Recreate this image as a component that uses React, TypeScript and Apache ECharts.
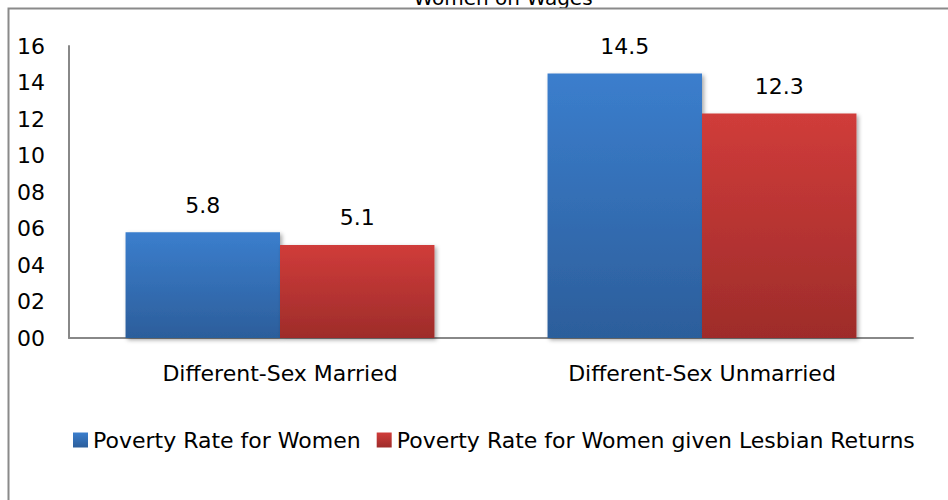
import React, { useEffect, useRef } from "react";
import * as echarts from "echarts";

const categories = ["Different-Sex Married", "Different-Sex Unmarried"];
const seriesNames = ["Poverty Rate for Women", "Poverty Rate for Women given Lesbian Returns"];
const womenValues = [5.8, 14.5];
const lesbianValues = [5.1, 12.3];
const titleText = "Women on Wages";

const FONT = "DejaVu Sans";
const FS = 22;

export default function App() {
  const ref = useRef<HTMLDivElement>(null);
  useEffect(() => {
    document.body.style.margin = "0";
    if (!ref.current) return;
    const chart = echarts.init(ref.current, null, { renderer: "svg" });
    const blueGrad = new echarts.graphic.LinearGradient(0, 0, 0, 1, [
      { offset: 0, color: "#3b7ecd" },
      { offset: 1, color: "#2c5e9b" },
    ]);
    const redGrad = new echarts.graphic.LinearGradient(0, 0, 0, 1, [
      { offset: 0, color: "#d03c3a" },
      { offset: 1, color: "#9e2c2a" },
    ]);
    const labelStyle = {
      show: true,
      position: "top",
      distance: 16,
      color: "#000",
      fontSize: FS,
      fontFamily: FONT,
    };
    chart.setOption({
      animation: false,
      backgroundColor: "#fff",
      graphic: [
        {
          type: "text",
          x: 503,
          y: 8,
          style: {
            text: titleText,
            fontSize: 20,
            fontFamily: FONT,
            fill: "#000",
            align: "center",
            verticalAlign: "bottom",
            textAlign: "center",
            textVerticalAlign: "bottom",
          },
        },
        {
          type: "rect",
          shape: { x: 8.5, y: 8.5, width: 1000, height: 600 },
          style: { fill: "none", stroke: "#8a8a8a", lineWidth: 2 },
          silent: true,
        },
      ],
      legend: {
        show: true,
        left: 73,
        top: 429,
        padding: 0,
        itemWidth: 15,
        itemHeight: 15,
        itemGap: 16,
        icon: "rect",
        textStyle: { fontSize: FS, fontFamily: FONT, color: "#000" },
        data: seriesNames,
      },
      grid: { left: 69, right: 35, top: 46, bottom: 162, containLabel: false },
      xAxis: {
        type: "category",
        data: categories,
        axisLine: { lineStyle: { color: "#888", width: 2 } },
        axisTick: { show: false },
        axisLabel: { color: "#000", fontSize: FS, fontFamily: FONT, margin: 24 },
      },
      yAxis: {
        type: "value",
        min: 0,
        max: 16,
        interval: 2,
        axisLine: { show: true, lineStyle: { color: "#888", width: 2 } },
        axisTick: { show: false },
        splitLine: { show: false },
        axisLabel: {
          color: "#000",
          fontSize: FS,
          fontFamily: FONT,
          align: "left",
          margin: 52,
          formatter: (v: number) => (v < 10 ? "0" + v : String(v)),
        },
      },
      series: [
        {
          name: seriesNames[0],
          type: "bar",
          data: womenValues,
          barGap: "0%",
          barCategoryGap: "26.8%",
          itemStyle: {
            color: blueGrad,
            shadowColor: "rgba(0,0,0,0.35)",
            shadowBlur: 4,
            shadowOffsetX: 2,
            shadowOffsetY: 2,
          },
          label: labelStyle,
        },
        {
          name: seriesNames[1],
          type: "bar",
          data: lesbianValues,
          barGap: "0%",
          barCategoryGap: "26.8%",
          itemStyle: {
            color: redGrad,
            shadowColor: "rgba(0,0,0,0.35)",
            shadowBlur: 4,
            shadowOffsetX: 2,
            shadowOffsetY: 2,
          },
          label: labelStyle,
        },
      ],
    });
    return () => chart.dispose();
  }, []);
  return <div ref={ref} style={{ width: 948, height: 500 }} />;
}
